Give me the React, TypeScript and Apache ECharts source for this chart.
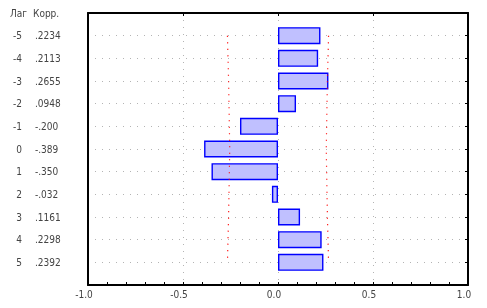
import React, { useEffect, useRef } from "react";
import * as echarts from "echarts";

const lags = [-5, -4, -3, -2, -1, 0, 1, 2, 3, 4, 5];
const corr = [0.2234, 0.2113, 0.2655, 0.0948, -0.2, -0.389, -0.35, -0.032, 0.1161, 0.2298, 0.2392];
const corrLabels = [".2234", ".2113", ".2655", ".0948", "-.200", "-.389", "-.350", "-.032", ".1161", ".2298", ".2392"];
const limits = [0.266, 0.263, 0.26, 0.258, 0.256, 0.254, 0.256, 0.258, 0.26, 0.263, 0.266];
const headers = ["Лаг", "Корр."];

const FONT = "'Liberation Sans Narrow', 'DejaVu Sans Condensed', sans-serif";
const TEXT = "#444";

export default function App() {
  const ref = useRef<HTMLDivElement>(null);
  useEffect(() => {
    if (!ref.current) return;
    const chart = echarts.init(ref.current, undefined, { renderer: "svg" });
    const cats = ["-6", ...lags.map(String), "6"];
    const pad = (arr: any[]) => ["-", ...arr, "-"];
    const frame = { show: true, onZero: false, lineStyle: { color: "#000", width: 2 } };
    const grayDot = { show: true, lineStyle: { color: "#b4b4b4", width: 1, type: [1, 6] as any } };
    const inner = (i: number) => i > 0 && i <= lags.length;
    const redLine = { color: "#ff0000", width: 1.2, type: [1.2, 5.3] as any };
    chart.setOption({
      animation: false,
      grid: { left: 88, right: 19, top: 13, bottom: 23, containLabel: false },
      xAxis: [
        {
          type: "value",
          position: "bottom",
          min: -1,
          max: 1,
          interval: 0.1,
          axisLine: frame,
          axisTick: { show: true, inside: true, length: 3, lineStyle: { color: "#000", width: 1 } },
          axisLabel: {
            margin: 4,
            fontFamily: FONT,
            fontSize: 10,
            color: TEXT,
            padding: [0, 8, 0, 0],
            formatter: (v: number) => {
              const r = Math.round(v * 10);
              if (r % 5 !== 0) return "";
              return (r / 10).toFixed(1);
            },
          },
          splitLine: { show: false },
        },
        {
          type: "value",
          position: "top",
          min: -1,
          max: 1,
          interval: 0.5,
          axisLine: frame,
          axisTick: { show: true, inside: true, length: 3, lineStyle: { color: "#000", width: 1 } },
          axisLabel: { show: false },
          splitLine: grayDot,
        },
      ],
      yAxis: [
        {
          type: "category",
          data: cats,
          inverse: true,
          boundaryGap: false,
          position: "left",
          axisLine: frame,
          axisTick: { show: false },
          axisLabel: {
            margin: 66,
            fontFamily: FONT,
            fontSize: 10,
            color: TEXT,
            interval: 0,
            formatter: (_v: string, i: number) => (inner(i) ? String(lags[i - 1]) : ""),
          },
          splitLine: grayDot,
        },
        {
          type: "category",
          data: cats,
          inverse: true,
          boundaryGap: false,
          position: "right",
          axisLine: frame,
          axisTick: { show: true, inside: true, length: 3, interval: 0, lineStyle: { color: "#000", width: 1 } },
          axisLabel: { show: false },
          splitLine: { show: false },
        },
        {
          type: "category",
          data: cats,
          inverse: true,
          boundaryGap: false,
          position: "left",
          axisLine: { show: false, onZero: false },
          axisTick: { show: false },
          axisLabel: {
            margin: 53,
            align: "left",
            fontFamily: FONT,
            fontSize: 10,
            color: TEXT,
            interval: 0,
            formatter: (_v: string, i: number) => (inner(i) ? corrLabels[i - 1] : ""),
          },
          splitLine: { show: false },
        },
      ],
      graphic: [
        { type: "text", x: 10, y: 13.5, style: { text: headers[0], font: `10px ${FONT}`, fill: TEXT, textVerticalAlign: "middle" } },
        { type: "text", x: 33, y: 13.5, style: { text: headers[1], font: `10px ${FONT}`, fill: TEXT, textVerticalAlign: "middle" } },
      ],
      series: [
        {
          type: "bar",
          xAxisIndex: 0,
          yAxisIndex: 0,
          data: pad(corr),
          barWidth: 17,
          itemStyle: { color: "#c0c0ff", borderColor: "#0000ff", borderWidth: 1.4 },
        },
        {
          type: "line",
          xAxisIndex: 0,
          yAxisIndex: 0,
          data: pad(limits),
          symbol: "none",
          lineStyle: redLine,
        },
        {
          type: "line",
          xAxisIndex: 0,
          yAxisIndex: 0,
          data: pad(limits.map((v) => -v)),
          symbol: "none",
          lineStyle: redLine,
        },
      ],
    });
    return () => chart.dispose();
  }, []);
  return <div ref={ref} style={{ position: "fixed", left: 0, top: 0, width: 487, height: 308 }} />;
}
